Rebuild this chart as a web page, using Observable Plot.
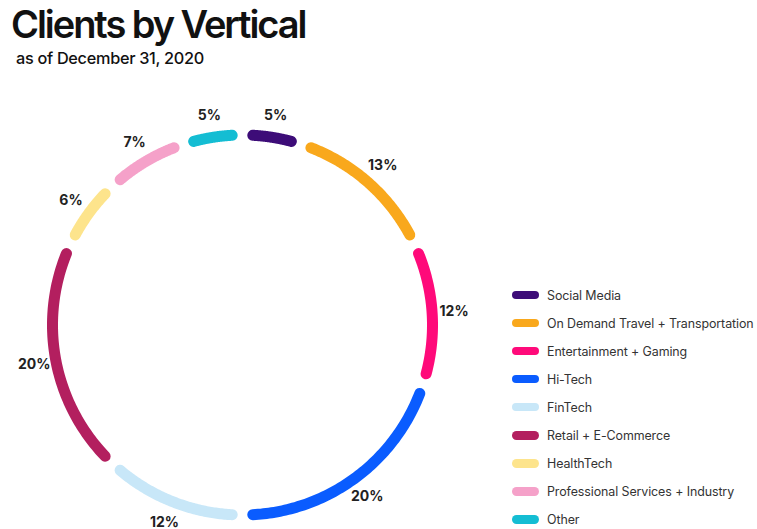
<!DOCTYPE html>
<html><head><meta charset="utf-8">
<script src="https://cdn.jsdelivr.net/npm/d3@7"></script>
<script src="https://cdn.jsdelivr.net/npm/@observablehq/plot@0.6"></script>
<style>
body{margin:0;background:#fff;font-family:Inter, "Noto Sans", sans-serif;}
#wrap{position:relative;width:757px;height:529px;overflow:hidden;background:#fff}
#title{position:absolute;left:11px;top:5px;font-size:38px;line-height:1;font-weight:600;letter-spacing:-2.05px;color:#111;white-space:nowrap}
#subtitle{position:absolute;left:16px;top:50px;font-size:16.3px;line-height:1;font-weight:500;color:#111;letter-spacing:-0.3px;white-space:nowrap}
#chart{position:absolute;left:0;top:75px}
#legend{position:absolute;left:512px;top:281px}
.item{display:flex;align-items:center;height:28.05px;font-size:12.45px;color:#333;white-space:nowrap;letter-spacing:-0.1px}
.sw{width:27px;height:8.5px;border-radius:5px;margin-right:8px}
</style></head>
<body>
<div id="wrap">
  <div id="title">Clients by Vertical</div>
  <div id="subtitle">as of December 31, 2020</div>
  <div id="chart"></div>
  <div id="legend"></div>
</div>
<script>
const categories = ["Social Media","On Demand Travel + Transportation","Entertainment + Gaming","Hi-Tech","FinTech","Retail + E-Commerce","HealthTech","Professional Services + Industry","Other"];
const shares = [5,13,12,20,12,20,6,7,5];
const colors = ["#3d0c78","#f9a81c","#ff0a7a","#0a5cff","#c8e7f8","#b31f5f","#fde48c","#f5a1c9","#14bdd3"];
const pctLabels = ["5%","13%","12%","20%","12%","20%","6%","7%","5%"];

const total = d3.sum(shares);
const gapDeg = 3.1;
const labelR = 212/190;
const arcPts = [];
const labelPts = [];
let acc = 0;
categories.forEach((c,i)=>{
  const a0 = acc/total*360 + gapDeg, a1 = (acc+shares[i])/total*360 - gapDeg;
  const n = 80;
  for(let k=0;k<=n;k++){
    const a = (a0 + (a1-a0)*k/n)*Math.PI/180;
    arcPts.push({cat:c, x:Math.sin(a), y:Math.cos(a)});
  }
  const am = (acc + shares[i]/2)/total*2*Math.PI;
  labelPts.push({cat:c, text:pctLabels[i], x:labelR*Math.sin(am), y:labelR*Math.cos(am)});
  acc += shares[i];
});

const cx = 242, cy = 249.5, r = 190;
const chart = Plot.plot({
  width:757, height:454,
  margin:0,
  x:{domain:[-1,1], range:[cx-r, cx+r], axis:null},
  y:{domain:[-1,1], range:[cy+r, cy-r], axis:null},
  color:{domain:categories, range:colors},
  style:{fontFamily:"Inter, sans-serif", background:"transparent", overflow:"visible"},
  marks:[
    Plot.line(arcPts,{x:"x",y:"y",z:"cat",stroke:"cat",strokeWidth:11,strokeLinecap:"round",strokeLinejoin:"round"}),
    Plot.text(labelPts,{x:"x",y:"y",text:"text",fontSize:14,fontWeight:700,fill:"#222",textAnchor:"middle",lineAnchor:"middle"})
  ]
});
document.getElementById("chart").appendChild(chart);

const leg = document.getElementById("legend");
categories.forEach((c,i)=>{
  const it = document.createElement("div"); it.className="item";
  const sw = document.createElement("div"); sw.className="sw"; sw.style.background=colors[i];
  const t = document.createElement("span"); t.textContent=c;
  it.appendChild(sw); it.appendChild(t); leg.appendChild(it);
});
</script>
</body></html>
